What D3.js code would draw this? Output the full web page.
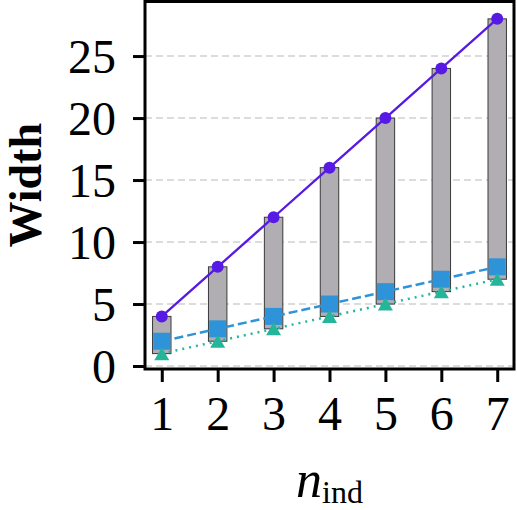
<!DOCTYPE html>
<html>
<head>
<meta charset="utf-8">
<script src="https://cdn.jsdelivr.net/npm/d3@7"></script>
<style>
  body { margin: 0; background: #fff; }
  text { font-family: "Liberation Serif", "DejaVu Serif", serif; fill: #000; }
</style>
</head>
<body>
<div id="chart"></div>
<script>
// n_ind values and the widths that go with them
var nInd = [1, 2, 3, 4, 5, 6, 7];
var maxWidth = [4, 8, 12, 16, 20, 24, 28];
var midWidth = [2, 3, 4, 5, 6, 7, 8];
var minWidth = [1, 2, 3, 4, 5, 6, 7];
var yTicks = [0, 5, 10, 15, 20, 25];

var W = 517, H = 510;
var margin = {left: 145, right: 3, top: 1.5, bottom: 141};
var innerW = W - margin.left - margin.right;
var innerH = H - margin.top - margin.bottom;

var purple = "#5719e4", blue = "#2e93d8", green = "#25b59a", barGray = "#b0aeb2";

var svg = d3.select("#chart").append("svg")
    .attr("width", W)
    .attr("height", H);

var g = svg.append("g")
    .attr("transform", "translate(" + margin.left + "," + margin.top + ")");

var x = d3.scaleLinear().domain([0.7, 7.3]).range([0, innerW]);
var y = d3.scaleLinear().domain([-0.24, 29.4]).range([innerH, 0]);

// grid
g.selectAll("line.grid")
    .data(yTicks)
    .enter()
    .append("line")
    .attr("class", "grid")
    .attr("x1", 0).attr("x2", innerW)
    .attr("y1", function (d) { return y(d); })
    .attr("y2", function (d) { return y(d); })
    .attr("stroke", "#dcdcdc")
    .attr("stroke-width", 2)
    .attr("stroke-dasharray", "7,4");

// range bars min..max
var barW = x(1.33) - x(1);
g.selectAll("rect.range")
    .data(nInd)
    .enter()
    .append("rect")
    .attr("class", "range")
    .attr("x", function (d) { return x(d) - barW / 2; })
    .attr("width", barW)
    .attr("y", function (d, i) { return y(maxWidth[i]); })
    .attr("height", function (d, i) { return y(minWidth[i]) - y(maxWidth[i]); })
    .attr("fill", barGray)
    .attr("stroke", "#3a3a3a")
    .attr("stroke-width", 1);

function drawLine(vals, color, dash, width) {
    var line = d3.line()
        .x(function (d, i) { return x(nInd[i]); })
        .y(function (d) { return y(d); });
    g.append("path")
        .datum(vals)
        .attr("d", line)
        .attr("fill", "none")
        .attr("stroke", color)
        .attr("stroke-width", width)
        .attr("stroke-dasharray", dash);
}

drawLine(minWidth, green, "2,5", 2.5);
drawLine(midWidth, blue, "9,4", 2.5);
drawLine(maxWidth, purple, null, 2.3);

// markers
g.selectAll("rect.sq")
    .data(midWidth)
    .enter()
    .append("rect")
    .attr("class", "sq")
    .attr("x", function (d, i) { return x(nInd[i]) - 8.5; })
    .attr("y", function (d) { return y(d) - 8.5; })
    .attr("width", 17)
    .attr("height", 17)
    .attr("fill", blue);

// triangle centred on its box, like matplotlib's "^"
function triPath(cx, cy) {
    var p = d3.path();
    p.moveTo(cx, cy - 6.5);
    p.lineTo(cx + 7.5, cy + 6.5);
    p.lineTo(cx - 7.5, cy + 6.5);
    p.closePath();
    return p.toString();
}
g.selectAll("path.tri")
    .data(minWidth)
    .enter()
    .append("path")
    .attr("class", "tri")
    .attr("d", function (d, i) { return triPath(x(nInd[i]), y(d)); })
    .attr("fill", green);

g.selectAll("circle.dot")
    .data(maxWidth)
    .enter()
    .append("circle")
    .attr("class", "dot")
    .attr("cx", function (d, i) { return x(nInd[i]); })
    .attr("cy", function (d) { return y(d); })
    .attr("r", 6)
    .attr("fill", purple);

// axes
var yAxis = g.append("g")
    .call(d3.axisLeft(y).tickValues(yTicks).tickSize(12).tickPadding(17).tickFormat(d3.format("d")));
var xAxis = g.append("g")
    .attr("transform", "translate(0," + innerH + ")")
    .call(d3.axisBottom(x).tickValues(nInd).tickSize(13).tickPadding(14).tickFormat(d3.format("d")));

[xAxis, yAxis].forEach(function (ax) {
    ax.select(".domain").remove();
    ax.selectAll(".tick line").attr("stroke", "#000").attr("stroke-width", 3);
    ax.selectAll(".tick text")
        .style("font-size", "48px")
        .style("font-family", "'Liberation Serif', serif");
});
yAxis.selectAll(".tick text").attr("dy", "0.34em");

// frame
g.append("rect")
    .attr("x", 0).attr("y", 0)
    .attr("width", innerW).attr("height", innerH)
    .attr("fill", "none")
    .attr("stroke", "#000")
    .attr("stroke-width", 3);

// labels
svg.append("text")
    .attr("transform", "translate(41," + (margin.top + innerH / 2) + ") rotate(-90)")
    .attr("text-anchor", "middle")
    .style("font-size", "46px")
    .style("font-weight", "bold")
    .text("Width");

var xl = svg.append("text")
    .attr("x", margin.left + innerW / 2)
    .attr("y", 497)
    .attr("text-anchor", "middle")
    .style("font-size", "52px");
xl.append("tspan").style("font-style", "italic").text("n");
xl.append("tspan").attr("dy", 6).style("font-size", "32px").text("ind");
</script>
</body>
</html>
